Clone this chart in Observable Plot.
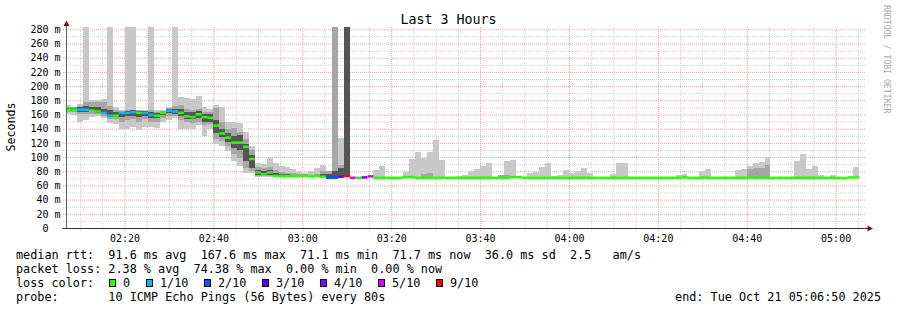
<!DOCTYPE html>
<html><head><meta charset="utf-8">
<script src="https://cdn.jsdelivr.net/npm/d3@7"></script>
<script src="https://cdn.jsdelivr.net/npm/@observablehq/plot@0.6"></script>
<style>
html,body{margin:0;padding:0;background:#fff}
svg{display:block}
</style>
</head><body><div id="chart"></div>
<script>
// ---------------- data ----------------
const title = "Last 3 Hours";
const yLabel = "Seconds";
const watermark = "RRDTOOL / TOBI OETIKER";
const rangeStart = "2025-10-21T02:06:50Z";
const rangeEnd = "2025-10-21T05:06:50Z";
const firstStep = "2025-10-21T02:06:40Z";
const stepSeconds = 80;
const timeTicks = ["02:20","02:40","03:00","03:20","03:40","04:00","04:20","04:40","05:00"];
const yTicks = [0,20,40,60,80,100,120,140,160,180,200,220,240,260,280];
const yMinorTicks = [10,30,50,70,90,110,130,150,170,190,210,230,250,270];

// median rtt per 80 s step (ms)
const median = [
167.4,167.4,167.4,167.4,166,165,163,159,159,163,
163,164,163,163,160,159,163,166,165,163,
158,157,161,157,156,145,134,128,121,121,
115,98,79,76.5,79,74,74,74,74,74,
74.5,73.5,74,73,71.5,71.5,73,74,71.5,71.5,
72,73.5,71.5,71.5,71.5,71.5,71.5,72.5,72.5,71.5,
71.5,71.5,71.5,71.5,71.5,71.5,71.5,71.5,71.5,71.5,
71.5,71.5,71.5,71.5,71.5,72.5,72.5,71.5,71.5,71.5,
71.5,71.5,71.5,71.5,71.5,71.5,71.5,71.5,71.5,71.5,
71.5,71.5,71.5,71.5,71.5,71.5,71.5,71.5,71.5,71.5,
71.5,71.5,71.5,71.5,72,71.5,71.5,71.5,71.5,71.5,
71.5,71.5,71.5,71.5,71.5,71.5,71.5,71.5,71.5,71.5,
71.5,71.5,71.5,71.5,71.5,71.5,71.5,71.5,71.5,71.5,
71.5,71.2,72,72
];
// loss class per step: index into lossLabels
const lossClass = [
0,0,1,1,0,0,1,1,0,1,
1,1,0,1,1,0,0,1,1,0,
0,0,0,0,0,0,0,0,0,0,
0,0,0,0,0,0,0,0,0,0,
0,0,0,0,2,2,3,6,5,0,
4,5,0,0,0,0,0,0,0,0,
0,0,0,0,0,0,0,0,0,0,
0,0,0,0,0,0,0,0,0,0,
0,0,0,0,0,0,0,0,0,0,
0,0,0,0,0,0,0,0,0,0,
0,0,0,0,0,0,0,0,0,0,
0,0,0,0,0,0,0,0,0,0,
0,0,0,0,0,0,0,0,0,0,
0,0,0,0
];
// outer smoke (fastest / slowest ping)
const smokeMin = [
160,159,150,152,157,158,155,148,147,139,
139,142,138,143,142,141,149,152,155,139,
139,140,145,130,140,119,116,109,94,87,
77,77,72,72,72,72,72,72,72,72,
72,72,72,72,71,71,72,72,null,null,
null,null,71.5,71.5,null,null,null,72,72,71.5,
71.5,71.5,71.5,71.5,null,null,71.5,71.5,71.5,71.5,
71.5,71.5,null,71.5,71.5,72,null,null,71.5,71.5,
71.5,71.5,71.5,71.5,71.5,71.5,71.5,71.5,71.5,null,
null,null,71.5,71.5,71.5,null,null,null,null,null,
null,null,null,71.5,71.5,null,null,71.5,71.5,null,
null,null,null,71.5,71.5,71.5,71.5,71.5,71.5,null,
null,null,null,71.5,71.5,71.5,71.5,71.5,null,71.5,
null,null,null,71.5
];
const smokeMax = [
174,171,175,283,180,181,182,283,170,167,
283,283,167,166,283,166,166,171,283,184,
183,182,186,170,168,174,171,149,149,148,
136,115,91,90,99,91,88,86,83,79,
78,80,84,89,81,283,127,283,null,null,
null,null,82,88,null,null,null,79.5,97,107.7,
98,107.7,124,96,null,null,73.8,74.8,80.4,83,
88,91,null,75,94.5,96,null,null,78,79.5,
85.6,91,73.8,74.8,82,78,80.4,85,77,null,
null,null,76,91,91,null,null,null,null,null,
null,null,null,74.8,76,null,null,81,83,null,
null,null,null,82,83,87,91,93,99,null,
null,null,null,94.5,105,83,87.4,74.8,null,74.8,
null,null,null,86
];
// middle smoke band
const midLo = [
164,163,161,161,161,160,158,153,153,150,
152,153,150,153,150,150,155,158,158,152,
150,148,150,145,146,125,122,115,104,98,
84,80,73,73,73,73,72,72,72,72,
72,72,72,72,71,71,72,72,null,null,
null,null,null,null,null,null,null,null,null,null,
71.5,71.5,null,null,null,null,null,null,null,null,
null,null,null,71.5,71.5,null,null,null,null,null,
null,null,null,null,null,null,null,null,null,null,
null,null,null,null,null,null,null,null,null,null,
null,null,null,null,null,null,null,null,null,null,
null,null,null,null,null,71.5,71.5,71.5,71.5,null,
null,null,null,null,null,null,null,null,null,null,
null,null,null,null
];
const midHi = [
170,170,172,178,178,178,178,172,166,165,
166,167,166,165,166,164,165,169,172,174,
168,166,168,163,163,169,150,140,141,135,
125,110,86,84,86,82,79,78,77,76,
76,75,76,80,80,283,89,283,null,null,
null,null,null,null,null,null,null,null,null,null,
75.7,77,null,null,null,null,null,null,null,null,
null,null,null,75,74,null,null,null,null,null,
null,null,null,null,null,null,null,null,null,null,
null,null,null,null,null,null,null,null,null,null,
null,null,null,null,null,null,null,null,null,null,
null,null,null,null,null,83,84,84,89,null,
null,null,null,null,null,null,null,null,null,null,
null,null,null,null
];
// inner (darkest) smoke band
const darkLo = [
166,165,164,164,163,162,160,156,156,157,
158,158,157,158,155,155,159,162,161,158,
154,153,155,150,150,134,128,121,113,110,
94,84,74,74,74,73,72,72,72,null,
null,null,null,72,71,71,72,72
];
const darkHi = [
169,169,170,172,170,170,168,166,163,164,
165,166,165,165,164,162,164,168,168,168,
164,163,165,161,160,152,140,134,130,131,
118,103,82,80,82,78,76,76,75,null,
null,null,null,76,76,80,85,283
];

const lossLabels = ["0","1/10","2/10","3/10","4/10","5/10","9/10"];
const lossColors = ["#26ff00","#00b8ff","#0059ff","#5e00ff","#7e00ff","#dd00ff","#ff0000"];

const statRows = [
  "median rtt:  91.6 ms avg  167.6 ms max  71.1 ms min  71.7 ms now  36.0 ms sd  2.5   am/s",
  "packet loss: 2.38 % avg  74.38 % max  0.00 % min  0.00 % now"
];
const lossRowLabel = "loss color:";
const probeText = "probe:       10 ICMP Echo Pings (56 Bytes) every 80s";
const endText = "end: Tue Oct 21 05:06:50 2025";

// ---------------- build ----------------
const base = Date.parse(firstStep);
const rows = median.map((m, i) => ({
  t0: new Date(base + i * stepSeconds * 1000),
  t1: new Date(base + (i + 1) * stepSeconds * 1000),
  med: m, loss: lossClass[i],
  min: smokeMin[i], max: smokeMax[i],
  mlo: midLo[i], mhi: midHi[i],
  dlo: darkLo[i] ?? null, dhi: darkHi[i] ?? null
}));
const x0 = new Date(rangeStart), x1 = new Date(rangeEnd);
const majorTimes = timeTicks.map(s => new Date(`2025-10-21T${s}:00Z`));
const minorTimes = d3.utcMinute.every(5).range(x0, x1).filter(d => d.getUTCMinutes() % 20 !== 0);

const MONO = "'DejaVu Sans Mono', monospace";
const gridMinor = "#cfcfcf", gridMajor = "#f0a0a0";

const chart = Plot.plot({
  width: 897, height: 310,
  marginLeft: 66, marginRight: 31, marginTop: 27, marginBottom: 82,
  style: {fontFamily: MONO, fontSize: "10px", background: "#fff", color: "#000", overflow: "visible"},
  x: {type: "utc", domain: [x0, x1]},
  y: {domain: [0, 283.3]},
  marks: [
    Plot.ruleY(yMinorTicks, {stroke: gridMinor, strokeDasharray: "1,1"}),
    Plot.ruleX(minorTimes, {stroke: gridMinor, strokeDasharray: "1,1"}),
    Plot.ruleY(yTicks.filter(v => v > 0), {stroke: gridMajor, strokeDasharray: "1,1"}),
    Plot.ruleX(majorTimes, {stroke: gridMajor, strokeDasharray: "1,1"}),
    Plot.axisY(yMinorTicks, {tickSize: 3, stroke: gridMinor, strokeDasharray: "1,1", fill: "none"}),
    Plot.axisY(yTicks, {tickSize: 3, tickPadding: 3, stroke: gridMajor, strokeDasharray: "1,1", fill: "#000",
      tickFormat: v => v === 0 ? "0\u00a0\u00a0" : `${v} m`, fontSize: 10}),
    Plot.axisX(minorTimes, {tickSize: 3, stroke: gridMinor, strokeDasharray: "1,1", fill: "none"}),
    Plot.axisX(majorTimes, {tickSize: 3, tickPadding: 3, stroke: gridMajor, strokeDasharray: "1,1", fill: "#000",
      tickFormat: d3.utcFormat("%H:%M"), fontSize: 10}),
    Plot.rect(rows.filter(d => d.max != null), {x1: "t0", x2: "t1", y1: "min", y2: "max", fill: "#c8c8c8", clip: true, shapeRendering: "crispEdges"}),
    Plot.rect(rows.filter(d => d.mhi != null), {x1: "t0", x2: "t1", y1: "mlo", y2: "mhi", fill: "#a6a6a6", clip: true, shapeRendering: "crispEdges"}),
    Plot.rect(rows.filter(d => d.dhi != null), {x1: "t0", x2: "t1", y1: "dlo", y2: "dhi", fill: "#555555", clip: true, shapeRendering: "crispEdges"}),
    Plot.ruleY(rows, {y: "med", x1: "t0", x2: "t1", stroke: d => lossColors[d.loss], strokeWidth: 2.5, clip: true})
  ]
});
document.getElementById("chart").appendChild(chart);

// ---------------- decorations (axes, title, legend) ----------------
const X = chart.scale("x"), Y = chart.scale("y");
const svg = d3.select(chart);
const ax = Math.round(X.apply(x0)) + 0.5, ay = Math.round(Y.apply(0)) + 0.5;
const right = X.apply(x1);
const axisG = svg.append("g");
axisG.append("line").attr("x1", ax).attr("x2", ax).attr("y1", ay).attr("y2", 24).attr("stroke", "#666");
axisG.append("line").attr("x1", ax - 4).attr("x2", right + 2).attr("y1", ay).attr("y2", ay).attr("stroke", "#333");
axisG.append("path").attr("d", `M${ax},20.5L${ax + 3},26L${ax - 3},26Z`).attr("fill", "#7f1414");
axisG.append("path").attr("d", `M${right + 7},${ay}L${right + 1.5},${ay - 3}L${right + 1.5},${ay + 3}Z`).attr("fill", "#7f1414");

const LEG = "11.8px";
const txt = (x, y, s, opts = {}) => svg.append("text").attr("x", x).attr("y", y)
  .attr("font-family", MONO).attr("font-size", opts.size || LEG)
  .attr("fill", opts.fill || "#000").attr("text-anchor", opts.anchor || "start")
  .attr("transform", opts.rotate ? `rotate(${opts.rotate},${x},${y})` : null)
  .style("white-space", "pre").text(s);

txt(448.5, 23.5, title, {size: "13.3px", anchor: "middle"});
txt(15, 127, yLabel, {rotate: -90, anchor: "middle", size: "11.6px"});
txt(883.5, 5, watermark, {rotate: 90, size: "8.2px", fill: "#a8a8a8"});

const rowY = [259, 273, 287, 301];
statRows.forEach((s, r) => txt(16, rowY[r], s));
txt(16, rowY[2], lossRowLabel);
const swX = [109, 146, 204, 262, 320, 378, 436];
lossLabels.forEach((l, k) => {
  svg.append("rect").attr("x", swX[k] + 0.5).attr("y", 279.5).attr("width", 6).attr("height", 7)
    .attr("fill", lossColors[k]).attr("stroke", "#000");
  txt(swX[k] + 14, rowY[2], l);
});
txt(16, rowY[3], probeText);
txt(881, rowY[3], endText, {anchor: "end"});
</script>
</body></html>
